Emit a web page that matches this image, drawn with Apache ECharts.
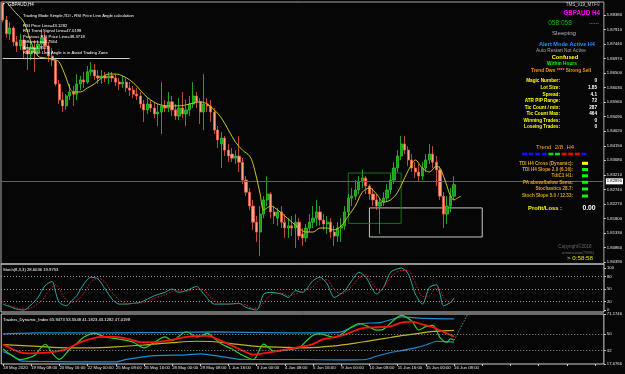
<!DOCTYPE html>
<html><head><meta charset="utf-8">
<script src="https://cdn.jsdelivr.net/npm/echarts@6/dist/echarts.min.js"></script>
<style>html,body{margin:0;padding:0;background:#000;}#c{width:625px;height:374px;}</style>
</head><body><div id="c"></div>
<script>
// ---------- DATA ----------
const timeLabels = ['18 May 2020','19 May 08:00','20 May 16:00','22 May 00:00','25 May 08:00','26 May 16:00','28 May 00:00','29 May 08:00','1 Jun 16:00','3 Jun 00:00','4 Jun 08:00','5 Jun 16:00','9 Jun 00:00','10 Jun 08:00','11 Jun 16:00','15 Jun 00:00','16 Jun 08:00'];
const priceTicks = [1.8039,1.8086,1.8133,1.8180,1.8227,1.8274,1.8321,1.8368,1.8415,1.8462,1.8509,1.8556,1.8603,1.8650,1.8697,1.8744,1.8791,1.8838];
const stochTicks = [0,20,50,80,100];
const tdiTicks = [17.6766,32,50,71.1746];

const opens = [1.8874,1.8822,1.8777,1.8796,1.8751,1.8738,1.8757,1.8725,1.8712,1.8731,
1.8718,1.8744,1.8764,1.8738,1.8705,1.8692,1.8615,1.8563,1.8544,1.8576,
1.8589,1.8582,1.8615,1.8628,1.8621,1.8654,1.8660,1.8641,1.8634,1.8641,
1.8634,1.8641,1.8634,1.8621,1.8615,1.8621,1.8602,1.8595,1.8582,1.8576,
1.8550,1.8531,1.8550,1.8537,1.8518,1.8524,1.8544,1.8537,1.8557,1.8531,
1.8511,1.8537,1.8518,1.8531,1.8550,1.8576,1.8557,1.8524,1.8550,1.8544,
1.8524,1.8466,1.8421,1.8440,1.8401,1.8388,1.8375,1.8382,1.8362,1.8304,
1.8265,1.8220,1.8168,1.8136,1.8194,1.8240,1.8259,1.8201,1.8181,1.8201,
1.8168,1.8149,1.8156,1.8149,1.8168,1.8130,1.8117,1.8149,1.8168,1.8181,
1.8201,1.8175,1.8162,1.8168,1.8136,1.8123,1.8149,1.8156,1.8201,1.8246,
1.8252,1.8272,1.8298,1.8311,1.8285,1.8259,1.8240,1.8220,1.8233,1.8246,
1.8272,1.8304,1.8343,1.8382,1.8421,1.8401,1.8369,1.8343,1.8330,1.8317,
1.8343,1.8369,1.8388,1.8362,1.8337,1.8252,1.8194,1.8220,1.8252];
const closes = [1.8822,1.8777,1.8796,1.8751,1.8738,1.8757,1.8725,1.8712,1.8731,1.8718,
1.8744,1.8764,1.8738,1.8705,1.8692,1.8615,1.8563,1.8544,1.8576,1.8589,
1.8582,1.8615,1.8628,1.8621,1.8654,1.8660,1.8641,1.8634,1.8641,1.8634,
1.8641,1.8634,1.8621,1.8615,1.8621,1.8602,1.8595,1.8582,1.8576,1.8550,
1.8531,1.8550,1.8537,1.8518,1.8524,1.8544,1.8537,1.8557,1.8531,1.8511,
1.8537,1.8518,1.8531,1.8550,1.8576,1.8557,1.8524,1.8550,1.8544,1.8524,
1.8466,1.8434,1.8440,1.8401,1.8382,1.8375,1.8382,1.8362,1.8304,1.8265,
1.8220,1.8168,1.8136,1.8194,1.8240,1.8259,1.8201,1.8188,1.8201,1.8168,
1.8149,1.8156,1.8149,1.8168,1.8123,1.8117,1.8149,1.8168,1.8181,1.8201,
1.8175,1.8162,1.8168,1.8136,1.8123,1.8149,1.8156,1.8201,1.8246,1.8252,
1.8272,1.8298,1.8311,1.8285,1.8259,1.8240,1.8220,1.8233,1.8246,1.8272,
1.8304,1.8343,1.8382,1.8421,1.8401,1.8369,1.8343,1.8330,1.8317,1.8343,
1.8369,1.8388,1.8362,1.8337,1.8252,1.8194,1.8220,1.8252,1.8289];
const highs = [1.8880,1.8835,1.8815,1.8802,1.8770,1.8777,1.8764,1.8744,1.8751,1.8757,
1.8757,1.8789,1.8783,1.8751,1.8731,1.8699,1.8628,1.8589,1.8582,1.8615,
1.8608,1.8647,1.8641,1.8654,1.8673,1.8686,1.8680,1.8660,1.8660,1.8654,
1.8654,1.8654,1.8647,1.8634,1.8641,1.8634,1.8621,1.8608,1.8602,1.8589,
1.8563,1.8569,1.8563,1.8557,1.8550,1.8621,1.8563,1.8589,1.8576,1.8550,
1.8569,1.8589,1.8563,1.8576,1.8621,1.8589,1.8569,1.8647,1.8569,1.8563,
1.8537,1.8479,1.8459,1.8447,1.8421,1.8408,1.8401,1.8447,1.8375,1.8317,
1.8278,1.8240,1.8188,1.8220,1.8252,1.8317,1.8265,1.8220,1.8214,1.8220,
1.8194,1.8181,1.8188,1.8194,1.8181,1.8149,1.8162,1.8194,1.8220,1.8240,
1.8220,1.8194,1.8188,1.8181,1.8156,1.8168,1.8181,1.8220,1.8259,1.8278,
1.8304,1.8317,1.8337,1.8317,1.8291,1.8278,1.8259,1.8246,1.8265,1.8291,
1.8324,1.8362,1.8401,1.8447,1.8447,1.8414,1.8388,1.8362,1.8356,1.8362,
1.8388,1.8421,1.8414,1.8382,1.8349,1.8265,1.8252,1.8278,1.8317];
const lows = [1.8815,1.8764,1.8757,1.8738,1.8718,1.8725,1.8699,1.8660,1.8692,1.8654,
1.8705,1.8725,1.8718,1.8686,1.8673,1.8608,1.8550,1.8524,1.8531,1.8563,
1.8544,1.8563,1.8595,1.8602,1.8615,1.8641,1.8628,1.8615,1.8615,1.8621,
1.8615,1.8621,1.8608,1.8595,1.8602,1.8589,1.8576,1.8569,1.8563,1.8537,
1.8492,1.8518,1.8524,1.8505,1.8479,1.8453,1.8524,1.8524,1.8511,1.8498,
1.8498,1.8505,1.8479,1.8511,1.8537,1.8537,1.8485,1.8466,1.8524,1.8492,
1.8453,1.8408,1.8343,1.8382,1.8362,1.8362,1.8356,1.8330,1.8291,1.8252,
1.8207,1.8143,1.8104,1.8058,1.8181,1.8220,1.8181,1.8162,1.8156,1.8149,
1.8117,1.8117,1.8123,1.8084,1.8110,1.8091,1.8104,1.8136,1.8149,1.8156,
1.8156,1.8143,1.8130,1.8117,1.8091,1.8104,1.8104,1.8143,1.8188,1.8220,
1.8240,1.8259,1.8278,1.8259,1.8240,1.8220,1.8207,1.8130,1.8220,1.8233,
1.8259,1.8291,1.8330,1.8369,1.8388,1.8349,1.8330,1.8311,1.8298,1.8304,
1.8330,1.8356,1.8343,1.8285,1.8240,1.8149,1.8162,1.8201,1.8240];

const maLine = [[1,1.8880],[4,1.8841],[6,1.8815],[8,1.8751],[10,1.8705],[12,1.8699],[15,1.8692],[16,1.8686],[18,1.8634],[19,1.8602],[20,1.8589],[22,1.8589],[24,1.8602],[26,1.8615],[28,1.8634],[30,1.8647],[32,1.8647],[34,1.8641],[36,1.8628],[38,1.8608],[40,1.8582],[42,1.8563],[44,1.8550],[47,1.8544],[50,1.8544],[53,1.8550],[56,1.8557],[58,1.8550],[60,1.8531],[62,1.8505],[64,1.8466],[66,1.8427],[68,1.8401],[70,1.8382],[71,1.8356],[72,1.8311],[73,1.8259],[74,1.8207],[75,1.8214],[76,1.8220],[78,1.8207],[80,1.8188],[82,1.8168],[84,1.8149],[86,1.8136],[88,1.8136],[90,1.8149],[92,1.8149],[94,1.8143],[96,1.8156],[98,1.8188],[100,1.8220],[102,1.8265],[104,1.8278],[106,1.8259],[108,1.8233],[110,1.8240],[112,1.8265],[114,1.8311],[116,1.8356],[117,1.8369],[119,1.8343],[121,1.8330],[123,1.8349],[124,1.8343],[125,1.8317],[126,1.8285],[127,1.8252],[128,1.8240],[129,1.8246],[130,1.8252]];

const trendLinePrice = 1.8699;
const boxGray = {x1:104, x2:136, top:1.8214, bottom:1.8120};
const boxGreen = {x1:98, x2:113, top:1.8327, bottom:1.8164};

const stochMain = [[0,14],[2,8],[4,2],[6,0],[8,12],[10,30],[12,58],[14,68],[15,42],[16,18],[18,10],[20,26],[21,34],[23,62],[25,78],[27,74],[29,50],[31,26],[33,14],[35,14],[37,16],[39,18],[41,26],[43,34],[46,42],[48,50],[50,42],[52,46],[55,56],[57,38],[60,14],[64,14],[67,16],[69,6],[72,0],[74,38],[76,42],[79,38],[81,30],[83,46],[85,42],[88,70],[90,78],[92,62],[94,30],[97,46],[99,70],[101,90],[103,78],[106,38],[108,54],[110,90],[113,100],[115,86],[117,38],[119,14],[121,54],[123,60],[124,38],[125,10],[127,18],[128,28.6]];
const stochSignal = [[0,20],[2,10],[5,3],[7,2],[11,22],[13,45],[15,60],[16,52],[17,35],[19,18],[21,22],[23,40],[25,66],[27,76],[29,66],[31,42],[33,24],[35,15],[38,16],[41,20],[43,28],[46,36],[48,44],[50,46],[52,44],[55,50],[57,48],[59,30],[61,18],[64,14],[67,15],[69,12],[71,4],[73,8],[75,28],[77,40],[79,40],[81,34],[83,38],[85,44],[88,56],[90,72],[92,72],[94,48],[96,38],[99,56],[101,76],[103,84],[105,60],[107,46],[109,66],[111,86],[113,94],[115,94],[117,64],[119,32],[121,34],[123,52],[124,50],[125,30],[127,18],[128,19.97]];

const tdiRsi = [[0,33.7],[2,28],[5,22.5],[7,24],[9,27],[11,36],[12,38.8],[14,29],[16,22.6],[19,33.7],[21,40],[23,46.6],[26,50.4],[29,46.6],[32,44.8],[35,43],[37,41],[40,35],[43,41],[46,46.6],[48,42.8],[52,52.2],[55,46.6],[58,50.4],[60,45],[62,39],[65,33.7],[68,27],[71,22.5],[74,39],[77,31.2],[81,33],[84,35],[86,42],[88,48.5],[90,50],[92,48],[94,46],[97,52],[99,57.6],[101,61],[104,57],[106,54],[108,55],[111,65],[113,69.8],[116,63.6],[118,54],[120,57.6],[122,59],[124,46],[126,41],[127,44.5],[128,43.13]];
const tdiSignal = [[0,38.75],[5,30],[8,29],[11,29.5],[15,31],[18,33.7],[22,41],[25,44.5],[28,46.6],[32,46.6],[36,44],[39,41],[43,41],[47,43],[52,46.6],[56,47.7],[58,47.7],[61,44],[64,39],[68,32],[71,27.8],[74,29],[77,31],[80,33],[83,35],[86,37],[88,39],[90,43],[92,45],[96,48],[99,52],[102,56],[106,57],[110,58],[113,62],[116,63],[119,60],[122,57],[125,52],[128,47.02]];
const tdiBase = [[0,38.5],[10,36.5],[18,35],[25,35],[32,36],[40,38],[48,40.5],[55,42],[60,41.5],[66,39],[72,36.5],[80,35.5],[86,35],[94,37],[100,40],[104,42.5],[110,46],[113,48],[118,50.5],[122,52.5],[126,53.3],[128,53.55]];
const tdiUpper = [[0,50],[10,51],[30,51],[50,51.5],[60,52],[70,51.5],[80,51],[90,51],[96,52],[99,57],[102,61],[107,62],[110,65],[113,68],[120,66.5],[128,65.95]];
const tdiLower = [[0,31],[3,26],[5,21],[10,20.5],[20,20],[32,20],[35,22.6],[42,26.4],[52,27.5],[56,28.6],[62,25.6],[67,22.7],[75,22.5],[84,22.5],[95,22],[103,22.5],[106,26],[110,30],[113,32],[117,35],[120,38],[123,42],[126,41.5],[128,41.18]];
const tdiForecast = [[128,43.13],[132,72]];

const slotCount = 171;
// ---------- BUILD ----------
const categories = Array.from({length: slotCount}, (_, i) => String(i));
const candles = opens.map((o, i) => [o, closes[i], lows[i], highs[i]]);
const bid = closes[closes.length - 1];
const F = 'Liberation Sans, Arial, sans-serif';

function xAx(i) {
  return {
    gridIndex: i, type: 'category', data: categories, boundaryGap: true,
    axisLine: {show: false},
    axisTick: {show: i === 2, interval: 7, alignWithLabel: true, length: 2, lineStyle: {color: '#cfcfcf'}},
    axisLabel: {show: i === 2, interval: 7, formatter: (v, idx) => timeLabels[idx / 8] || '', align: 'left',
      color: '#e6e6e6', fontSize: 4.3, margin: 2, fontFamily: F},
    splitLine: {show: false}
  };
}
function yAx(i, min, max, ticks, fmt) {
  return {
    gridIndex: i, type: 'value', position: 'right', min: min, max: max,
    splitLine: {show: false}, axisLine: {show: false},
    axisTick: {show: true, customValues: ticks, length: 2, lineStyle: {color: '#cfcfcf'}},
    axisLabel: {customValues: ticks, formatter: fmt, color: '#e6e6e6', fontSize: 4.2, margin: 3, fontFamily: F}
  };
}
const lvl = (vals) => ({silent: true, symbol: ['none', 'none'], label: {show: false},
  lineStyle: {color: '#9a9a9a', type: [1, 2], width: 1}, data: vals.map(v => ({yAxis: v}))});

function txt(t, x, y, color, size, opts) {
  opts = opts || {};
  return {type: 'text', x: x, y: y, silent: true, z: 100,
    style: {text: t, fill: color, font: (opts.bold ? 'bold ' : '') + size + 'px ' + F,
      align: opts.align || 'left', verticalAlign: 'middle'}};
}

const leftTexts = [
  ['Trading Mode Simple,TDI - RSI Price Line Angle calculation', 15.6],
  ['RSI Price Line=43.1282', 25.7],
  ['RSI Trend Signal Line=47.0198', 31.2],
  ['Previous RSI Price Line=38.3718', 36.7],
  ['Difference=4.7564', 42.2],
  ['Angle=4.9521', 47.7],
  ['RSI Price Line Angle is in Avoid Trading Zone', 53]
];
const infoRows = [
  ['Magic Number:', '0', 81], ['Lot Size:', '1.85', 88], ['Spread:', '4.1', 94.6],
  ['ATR PIP Range:', '72', 101], ['Tic Count / min:', '287', 107.4], ['Tic Count Max:', '464', 114],
  ['Winning Trades:', '0', 120.6], ['Loseing Trades:', '0', 127]
];
const trendSquares = ['#1010ff','#1010ff','#1010ff','#1010ff','#00e000','#00e000','#ff0000','#ff0000','#ff0000','#1010ff'];
const indRows = [
  ['TDI H4 Cross (Dynamic):', '#ffff00', 163.3], ['TDI H4 Slope 2.0 (6.16):', '#00ff00', 169.5],
  ['TdiC1 H1:', '#00ff00', 175.8], ['PA above/below Sema:', '#00ff00', 182.3],
  ['Stochastics 28.7:', '#00ff00', 189], ['Stoch Slope 5.0 / 12.33:', '#00ff00', 196]
];

const graphics = [];
graphics.push(txt('▼', 2, 4.5, '#ffffff', 3.5));
graphics.push(txt('GBPAUD,H4', 8, 4.5, '#ffffff', 4.5));
leftTexts.forEach(r => graphics.push(txt(r[0], 23, r[1], '#ffffff', 4.2)));
graphics.push(txt('Stoch(8,3,3) 28.6036 19.9753', 3, 270, '#ffffff', 4.2));
graphics.push(txt('Traders_Dynamic_Index 65.9473 53.5548 41.1823 43.1282 47.0198', 3, 319.5, '#ffffff', 4.2));

graphics.push(txt('TMS_v19_MTF©', 600, 5, '#d0d0d0', 4.5, {align: 'right'}));
graphics.push(txt('GBPAUD H4', 600, 13, '#ff00ff', 6.3, {align: 'right', bold: true}));
graphics.push(txt('058:058', 560, 23, '#00c000', 6.5, {align: 'center'}));
graphics.push(txt('......', 594, 22, '#ffff00', 6, {align: 'center'}));
graphics.push(txt('Sleeping', 564, 33.5, '#b4b4b4', 6.2, {align: 'center'}));
graphics.push(txt('Alert Mode Active H4', 567, 44, '#2a8cff', 5.6, {align: 'center', bold: true}));
graphics.push(txt('Auto Restart Not Active', 561, 50.7, '#a8a8a8', 4.8, {align: 'center'}));
graphics.push(txt('Confused', 565, 57.5, '#ffff00', 5.8, {align: 'center', bold: true}));
graphics.push(txt('Within Hours', 562, 63.5, '#00ff00', 4.8, {align: 'center', bold: true}));
graphics.push(txt('Trend Dwn **** Strong Sell', 561, 71, '#f09020', 4.8, {align: 'center', bold: true}));
infoRows.forEach(r => {
  graphics.push(txt(r[0], 560, r[2], '#ffff00', 4.7, {align: 'right', bold: true}));
  graphics.push(txt(r[1], 597, r[2], '#ffffff', 4.7, {align: 'right', bold: true}));
});
graphics.push(txt('Trend  2/8  H4', 555, 147, '#ffa500', 6, {align: 'center'}));
trendSquares.forEach((c, i) => graphics.push({type: 'rect', silent: true, z: 100,
  shape: {x: 522 + i * 6.6, y: 152.7, width: 5, height: 2.6}, style: {fill: c}}));
indRows.forEach(r => {
  graphics.push(txt(r[0], 573, r[2], '#e0a020', 4.6, {align: 'right', bold: true}));
  graphics.push({type: 'rect', silent: true, z: 100, shape: {x: 582, y: r[2] - 1.5, width: 6, height: 3}, style: {fill: r[1]}});
});
graphics.push(txt('Profit/Loss :', 545, 208, '#ffff00', 5.8, {align: 'center', bold: true}));
graphics.push(txt('0.00', 589, 208, '#ffffff', 6.8, {align: 'center', bold: true}));
graphics.push(txt('Copyright©2018', 575, 247, '#6a6a6a', 4.6, {align: 'center'}));
graphics.push(txt('amanswan(TMS)', 578, 252.5, '#6a6a6a', 4.2, {align: 'center'}));
graphics.push(txt('> 0:58:58', 580, 258.5, '#e6e600', 6.2, {align: 'center'}));

const option = {
  backgroundColor: '#060606',
  animation: false,
  grid: [
    {left: 1, right: 21, top: 2, height: 262, show: true, borderColor: '#a8a8a8', borderWidth: 1},
    {left: 1, right: 21, top: 264, height: 48, show: true, borderColor: '#d0d0d0', borderWidth: 1},
    {left: 1, right: 21, top: 314, height: 50, show: true, borderColor: '#d0d0d0', borderWidth: 1}
  ],
  xAxis: [xAx(0), xAx(1), xAx(2)],
  yAxis: [
    yAx(0, 1.80326, 1.8880, priceTicks, v => v.toFixed(5)),
    yAx(1, -4.76, 109.5, stochTicks, v => String(v)),
    yAx(2, 17.6766, 71.1746, tdiTicks, v => (Number.isInteger(v) ? String(v) : v.toFixed(4)))
  ],
  graphic: graphics,
  series: [
    {type: 'candlestick', xAxisIndex: 0, yAxisIndex: 0, data: candles, barWidth: 2.7,
      itemStyle: {color: '#1d9c1d', color0: '#ffa68a', borderColor: '#27c927', borderColor0: '#ee5a42', borderWidth: 0.8},
      markLine: {silent: true, symbol: ['none', 'none'],
        data: [
          {yAxis: bid, lineStyle: {color: '#606060', width: 1, type: 'solid'},
            label: {show: true, position: 'end', distance: 2, formatter: bid.toFixed(5), backgroundColor: '#ffffff',
              color: '#000000', fontSize: 4.2, padding: [1, 1], fontFamily: F}},
          [{coord: [0, trendLinePrice], lineStyle: {color: '#d0d0d0', width: 1, type: 'solid'}, label: {show: false}},
           {coord: [36, trendLinePrice]}]
        ]},
      markArea: {silent: true,
        data: [
          [{coord: [boxGray.x1, boxGray.top], itemStyle: {color: 'rgba(0,0,0,0)', borderColor: '#c8c8c8', borderWidth: 1}},
           {coord: [boxGray.x2, boxGray.bottom]}],
          [{coord: [boxGreen.x1, boxGreen.top], itemStyle: {color: 'rgba(0,0,0,0)', borderColor: '#1e6e1e', borderWidth: 1}},
           {coord: [boxGreen.x2, boxGreen.bottom]}]
        ]}
    },
    {type: 'line', xAxisIndex: 0, yAxisIndex: 0, data: maLine, smooth: 0.35, showSymbol: false,
      lineStyle: {color: '#c9c31e', width: 1}, z: 5},
    {type: 'line', xAxisIndex: 1, yAxisIndex: 1, data: stochMain, smooth: 0.25, showSymbol: false,
      lineStyle: {color: '#2fa6a6', width: 1}, markLine: lvl([20, 50, 80])},
    {type: 'line', xAxisIndex: 1, yAxisIndex: 1, data: stochSignal, smooth: 0.25, showSymbol: false,
      lineStyle: {color: '#d42020', width: 1, type: [1.5, 1.5]}},
    {type: 'line', xAxisIndex: 2, yAxisIndex: 2, data: tdiUpper, smooth: 0.2, showSymbol: false,
      lineStyle: {color: '#1f8ccf', width: 1.2}, markLine: lvl([32, 50])},
    {type: 'line', xAxisIndex: 2, yAxisIndex: 2, data: tdiLower, smooth: 0.2, showSymbol: false,
      lineStyle: {color: '#1f8ccf', width: 1.2}},
    {type: 'line', xAxisIndex: 2, yAxisIndex: 2, data: tdiBase, smooth: 0.3, showSymbol: false,
      lineStyle: {color: '#c3b31a', width: 1.2}},
    {type: 'line', xAxisIndex: 2, yAxisIndex: 2, data: tdiRsi, smooth: 0.3, showSymbol: false,
      lineStyle: {color: '#2ad12a', width: 1.2}},
    {type: 'line', xAxisIndex: 2, yAxisIndex: 2, data: tdiSignal, smooth: 0.35, showSymbol: false,
      lineStyle: {color: '#ff1010', width: 1.8}},
    {type: 'line', xAxisIndex: 2, yAxisIndex: 2, data: tdiForecast, showSymbol: false,
      lineStyle: {color: '#2aa0a0', width: 1, type: [1.5, 1.5]}}
  ]
};
const chart = echarts.init(document.getElementById('c'), null, {renderer: 'canvas'});
chart.setOption(option);
</script>
</body></html>
